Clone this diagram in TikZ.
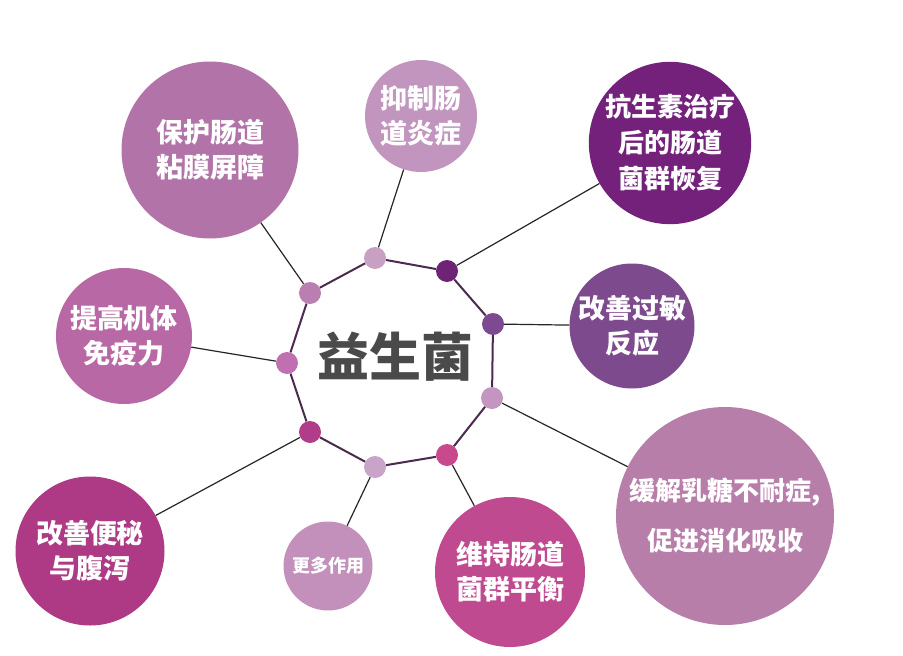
\documentclass[tikz,border=0pt]{standalone}
\usepackage{fontspec}
\newfontfamily\cjk{Noto Sans CJK SC}
\usetikzlibrary{positioning}
\definecolor{maingray}{HTML}{4A4A4A}
\definecolor{ringline}{HTML}{4A2A4E}
\definecolor{cProtect}{HTML}{B274A8}
\definecolor{cInflam}{HTML}{C295BF}
\definecolor{cAntibio}{HTML}{74217C}
\definecolor{cAllergy}{HTML}{7E4A8E}
\definecolor{cLactose}{HTML}{B77EAA}
\definecolor{cBalance}{HTML}{C04A90}
\definecolor{cMore}{HTML}{C290BA}
\definecolor{cConstip}{HTML}{AE3A86}
\definecolor{cImmune}{HTML}{B868A4}
\definecolor{dPink}{HTML}{B87FB0}
\definecolor{dLight}{HTML}{C8A0C4}
\definecolor{dDark}{HTML}{6E2476}
\definecolor{dViolet}{HTML}{7D4A92}
\definecolor{dLilac}{HTML}{C495C0}
\definecolor{dMagenta}{HTML}{C84A8C}
\definecolor{dPale}{HTML}{C8A4C8}
\definecolor{dBerry}{HTML}{B03C8A}
\definecolor{dRose}{HTML}{C070B0}
\tikzset{
        effect/.style={circle, inner sep=0pt, text=white, align=center, font=\cjk\bfseries\fontsize{27}{35}\selectfont},
        hub/.style={circle, inner sep=0pt, minimum size=22pt},
        ring/.style={draw=ringline, line width=2pt},
        link/.style={draw=black!85, line width=1.2pt},
    }
\begin{document}
\begin{tikzpicture}[x=1pt, y=-1pt]
        \useasboundingbox[fill=white] (0,0) rectangle (903,656);

        % Centre
        \node[font=\cjk\bfseries\fontsize{52}{60}\selectfont, text=maingray] (probio) at (395,357) {益生菌};

        % Ring of hubs
        \node[hub, fill=dPink] (h1) at (310,293) {};
        \node[hub, fill=dLight] (h2) at (375,258) {};
        \node[hub, fill=dDark] (h3) at (447,271) {};
        \node[hub, fill=dViolet] (h4) at (493,324) {};
        \node[hub, fill=dLilac] (h5) at (492,398) {};
        \node[hub, fill=dMagenta] (h6) at (447,455) {};
        \node[hub, fill=dPale] (h7) at (375,467) {};
        \node[hub, fill=dBerry] (h8) at (310,432) {};
        \node[hub, fill=dRose] (h9) at (287,363) {};

        \foreach \a/\b in {h1/h2, h2/h3, h3/h4, h4/h5, h5/h6, h6/h7, h7/h8, h8/h9, h9/h1}
            \draw[ring] (\a) -- (\b);

        % Effects
        \node[effect, fill=cProtect, minimum size=177pt] (protect) at (210,150) {保护肠道\\粘膜屏障};
        \node[effect, fill=cInflam, minimum size=112pt] (inflam) at (421,116) {抑制肠\\道炎症};
        \node[effect, fill=cAntibio, minimum size=154pt, font=\cjk\bfseries\fontsize{26}{36}\selectfont] (antibio) at (670,143) {抗生素治疗\\后的肠道\\菌群恢复};
        \node[effect, fill=cAllergy, minimum size=125pt] (allergy) at (632,326) {改善过敏\\反应};
        \node[effect, fill=cLactose, minimum size=218pt, font=\cjk\bfseries\fontsize{26}{50}\selectfont] (lactose) at (725,516) {缓解乳糖不耐症,\\促进消化吸收};
        \node[effect, fill=cBalance, minimum size=150pt] (balance) at (510,572) {维持肠道\\菌群平衡};
        \node[effect, fill=cMore, minimum size=89pt, font=\cjk\bfseries\fontsize{18}{22}\selectfont] (more) at (328,566) {更多作用};
        \node[effect, fill=cConstip, minimum size=149pt] (constip) at (90,551) {改善便秘\\与腹泻};
        \node[effect, fill=cImmune, minimum size=136pt] (immune) at (124,336) {提高机体\\免疫力};

        \draw[link] (h1) -- (protect);
        \draw[link] (h2) -- (inflam);
        \draw[link] (h3) -- (antibio);
        \draw[link] (h4) -- (allergy);
        \draw[link] (h5) -- (lactose);
        \draw[link] (h6) -- (balance);
        \draw[link] (h7) -- (more);
        \draw[link] (h8) -- (constip);
        \draw[link] (h9) -- (immune);
    \end{tikzpicture}
\end{document}
